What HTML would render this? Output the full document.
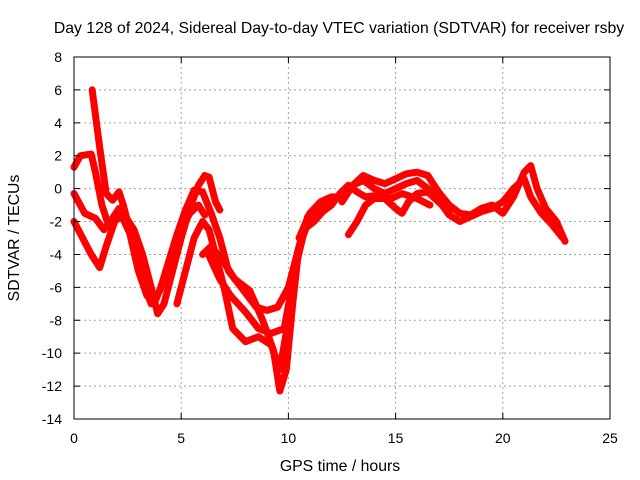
<!DOCTYPE html>
<html><head><meta charset="utf-8"><style>
body{margin:0;background:#fff}
svg{display:block;font-family:"Liberation Sans",sans-serif;font-size:14px}
</style></head><body>
<svg id="chart" width="640" height="480" viewBox="0 0 640 480">
<text x="339" y="33" text-anchor="middle" font-size="15.8">Day 128 of 2024, Sidereal Day-to-day VTEC variation (SDTVAR) for receiver rsby</text>
<g id="grid"></g>
<g id="series"></g>
<rect x="74" y="57" width="536" height="362" fill="none" stroke="#000" stroke-width="1"/>
<g id="ticks"></g>
<text x="340" y="471" text-anchor="middle" font-size="15.8">GPS time / hours</text>
<text transform="translate(19,238) rotate(-90)" text-anchor="middle" font-size="15.8">SDTVAR / TECUs</text>
</svg>
<script>
const xTicks=[0,5,10,15,20,25];
const yTicks=[8,6,4,2,0,-2,-4,-6,-8,-10,-12,-14];
const seriesA=[[0,1.3],[0.3,2],[0.8,2.1],[1.0,1],[1.3,-1],[1.6,-2.2],[2.0,-1.8],[2.4,-1.7],[2.8,-2.5],[3.2,-4],[3.6,-6],[3.9,-7.6],[4.2,-7],[4.6,-5],[5.0,-3],[5.4,-1.2],[5.8,0.2],[6.1,0.8],[6.3,0.7],[6.6,-0.8],[6.8,-1.3]];
const seriesB=[[0.85,6],[1.0,4.5],[1.2,2.5],[1.5,-0.3],[1.8,-0.7],[2.1,-0.2],[2.3,-1.0],[2.6,-2.5],[3.0,-4],[3.3,-6],[3.6,-7],[4.0,-6.2],[4.4,-4.5],[4.8,-2.8],[5.2,-1.3],[5.6,-0.1],[6.0,-0.2],[6.4,-1.5],[6.8,-3],[7.2,-5],[7.8,-6],[8.5,-7.2],[9.0,-7.4],[9.5,-7.2],[10,-6],[10.5,-3.5],[11,-1.8],[11.5,-1.2],[12,-0.6]];
const seriesC=[[0,-2],[0.4,-3],[0.8,-4],[1.2,-4.8],[1.5,-3.5],[1.9,-2],[2.2,-1.6],[2.6,-2.7],[3.0,-5],[3.4,-6.5],[3.8,-6.8],[4.2,-5.5],[4.6,-4],[5.0,-2.5],[5.4,-1.5],[5.8,-1],[6.1,-1.6]];
const seriesD=[[0,-0.3],[0.5,-1.5],[1.0,-1.8],[1.4,-2.5],[1.8,-1.8],[2.1,-1.2]];
const seriesE=[[4.8,-7],[5.2,-5],[5.6,-3],[6.0,-2],[6.3,-2.5],[6.6,-4],[7.0,-6],[7.4,-8.5],[8.0,-9.3],[8.6,-9.0],[9.2,-9.5],[9.6,-11],[10.0,-8],[10.4,-4],[10.8,-2.4],[11.2,-2],[11.6,-1.4],[12,-1]];
const seriesF=[[6,-4],[6.4,-3.5],[7,-4.5],[7.5,-5.5],[8.2,-6.2],[8.8,-8],[9.3,-9.8],[9.6,-12.3],[9.9,-11],[10.2,-7],[10.5,-3.5],[10.9,-1.7],[11.3,-1.2]];
const seriesG=[[6.2,-3.8],[6.8,-5.5],[7.3,-6.5],[8.0,-7.5],[8.6,-8.5],[9.2,-8.8],[9.8,-8.5],[10.3,-5],[10.7,-2.8]];
const seriesR1=[[10.5,-3],[11,-1.5],[11.5,-0.8],[12,-0.5],[12.5,-0.5],[13,0.2],[13.5,0.8],[14,0.5],[14.5,0.3],[15,0.6],[15.5,0.9],[16,1.0],[16.5,0.8],[17,-0.2],[17.5,-1],[18,-1.5],[18.5,-1.6],[19,-1.2],[19.5,-1.0],[20,-1.5],[20.5,-0.5],[21,1.0],[21.3,1.4],[21.6,0],[22,-1.2],[22.5,-2],[22.9,-3.2]];
const seriesR2=[[12.5,-0.8],[13,0.2],[13.5,0.5],[14,0],[14.5,-0.3],[15,0],[15.5,0.3],[16,0.5],[16.5,0],[17,-0.7],[17.5,-1.6],[18,-2],[18.5,-1.7],[19,-1.4],[19.5,-1.2],[20,-0.8],[20.5,0],[21,0.6],[21.3,-0.5],[21.8,-1.5],[22.3,-2.2],[22.8,-3]];
const seriesR3=[[12.8,-2.8],[13.2,-2],[13.6,-1],[14,-0.6],[14.5,-0.6],[15,-1.2],[15.3,-1.5],[15.6,-0.8],[16,-0.3],[16.5,-0.2],[17,-0.8],[17.5,-1.4]];
const seriesR4=[[11,-2],[11.5,-1],[12,-1],[12.4,-0.3],[12.8,0.2],[13.2,-0.2],[13.6,-0.5],[14.2,-0.4],[14.8,-0.6],[15.3,-0.3],[16,-0.6],[16.6,-1]];
const allSeries=[seriesA,seriesB,seriesC,seriesD,seriesE,seriesF,seriesG,seriesR1,seriesR2,seriesR3,seriesR4];
const NS="http://www.w3.org/2000/svg";
function X(h){return 74+h*(536/25);}
function Y(v){return 57+(8-v)*(362/22);}
const grid=document.getElementById('grid'),ticks=document.getElementById('ticks'),ser=document.getElementById('series');
xTicks.forEach(t=>{
 if(t>0&&t<25){const l=document.createElementNS(NS,'line');
 
 
 l.setAttribute('x1',X(t));l.setAttribute('x2',X(t));l.setAttribute('y1',57);l.setAttribute('y2',419);
 l.setAttribute('stroke','#a0a0a0');l.setAttribute('stroke-dasharray','2,3');grid.appendChild(l);}
 const tk=document.createElementNS(NS,'path');
 
 
 tk.setAttribute('d',`M${X(t)} 419v-6M${X(t)} 57v6`);tk.setAttribute('stroke','#000');ticks.appendChild(tk);
 const tx=document.createElementNS(NS,'text');
 
 
 tx.setAttribute('x',X(t));tx.setAttribute('y',443);tx.setAttribute('text-anchor','middle');tx.textContent=t;ticks.appendChild(tx);
});
yTicks.forEach(t=>{
 if(t<8&&t>-14){const l=document.createElementNS(NS,'line');
 
 
 l.setAttribute('x1',74);l.setAttribute('x2',610);l.setAttribute('y1',Y(t));l.setAttribute('y2',Y(t));
 l.setAttribute('stroke','#a0a0a0');l.setAttribute('stroke-dasharray','2,3');grid.appendChild(l);}
 const tk=document.createElementNS(NS,'path');
 
 
 tk.setAttribute('d',`M74 ${Y(t)}h6M610 ${Y(t)}h-6`);tk.setAttribute('stroke','#000');ticks.appendChild(tk);
 const tx=document.createElementNS(NS,'text');
 
 
 tx.setAttribute('x',62);tx.setAttribute('y',Y(t)+5);tx.setAttribute('text-anchor','end');tx.textContent=t;ticks.appendChild(tx);
});
allSeries.forEach((s,i)=>{
 const p=document.createElementNS(NS,'polyline');
 
 
 p.setAttribute('points',s.map(d=>X(d[0]).toFixed(1)+','+Y(d[1]).toFixed(1)).join(' '));
 p.setAttribute('fill','none');p.setAttribute('stroke','#ff0000');p.setAttribute('stroke-width','7');
 p.setAttribute('stroke-linejoin','round');p.setAttribute('stroke-linecap','round');ser.appendChild(p);
});
</script>
</body></html>
